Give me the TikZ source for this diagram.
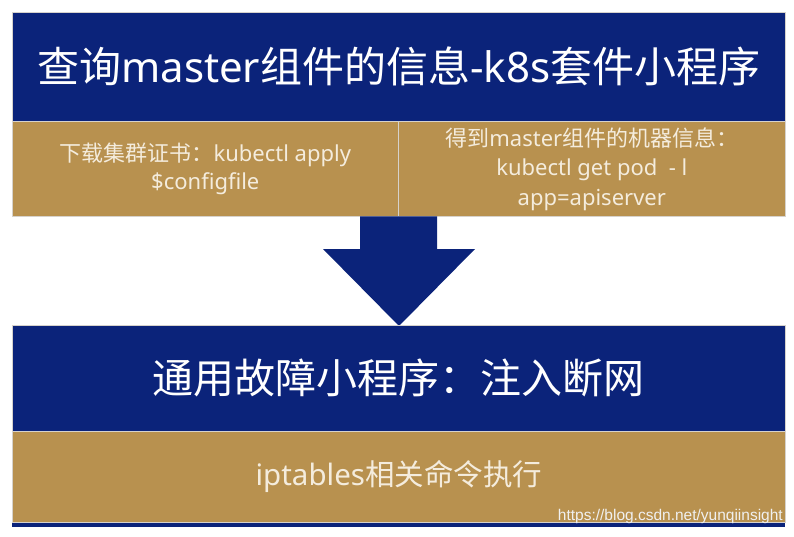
\documentclass[tikz,border=0pt]{standalone}
\usepackage{fontspec}
\setmainfont{Noto Sans}
\newfontfamily\cjk{Noto Sans CJK SC}
\newfontfamily\wmfont{Liberation Sans}
\definecolor{navy}{HTML}{0B237A}
\definecolor{gold}{HTML}{B8914F}
\definecolor{goldtext}{HTML}{F4ECDD}
\definecolor{edge}{HTML}{D6D2CC}
\begin{document}
\begin{tikzpicture}[x=1pt,y=-1pt,
  bluebox/.style={fill=navy,draw=edge,line width=0.6pt,anchor=north west,inner sep=0pt,text=white,align=center},
  goldcell/.style={fill=gold,draw=edge,line width=0.6pt,anchor=north west,inner sep=0pt,text=goldtext,align=center},
  bigarrow/.style={fill=navy,draw=none}]
\useasboundingbox (0,0) rectangle (794,537);
% top block
\node[bluebox,minimum width=773pt,minimum height=109pt,font=\fontsize{42}{46}\selectfont] (top) at (12,12) {\raisebox{1.5pt}{{\cjk 查询}master{\cjk 组件的信息}-k8s{\cjk 套件小程序}}};
\node[goldcell,minimum width=386pt,minimum height=95pt,font=\fontsize{22}{28.5}\selectfont] (dl) at (12,121) {{\cjk 下载集群证书：}kubectl apply\\\$configfile};
\node[goldcell,minimum width=387pt,minimum height=95pt,font=\fontsize{22}{29.5}\selectfont] (info) at (398,121) {{\cjk 得到}master{\cjk 组件的机器信息：}\\kubectl get pod\ \ - l\\app=apiserver};
% arrow
\draw[bigarrow] (360,216.5) -- (437,216.5) -- (437,249) -- (475,249) -- (399,326) -- (323,249) -- (360,249) -- cycle;
% bottom block
\node[fill=navy,anchor=north west,inner sep=0pt,minimum width=773pt,minimum height=6pt] (strip) at (12,521) {};
\node[bluebox,minimum width=773pt,minimum height=106pt,font=\cjk\fontsize{41}{44}\selectfont] (fault) at (12,325) {\raisebox{5pt}{通用故障小程序：注入断网}};
\node[goldcell,minimum width=773pt,minimum height=91pt,font=\fontsize{29.5}{32}\selectfont] (ipt) at (12,431) {iptables{\cjk 相关命令执行}};
% watermark
\node[anchor=east,inner sep=0pt,text=white!88!gray,font=\wmfont\fontsize{15.5}{16}\selectfont] (wm) at (783,516) {https://blog.csdn.net/yunqiinsight};
\end{tikzpicture}
\end{document}
